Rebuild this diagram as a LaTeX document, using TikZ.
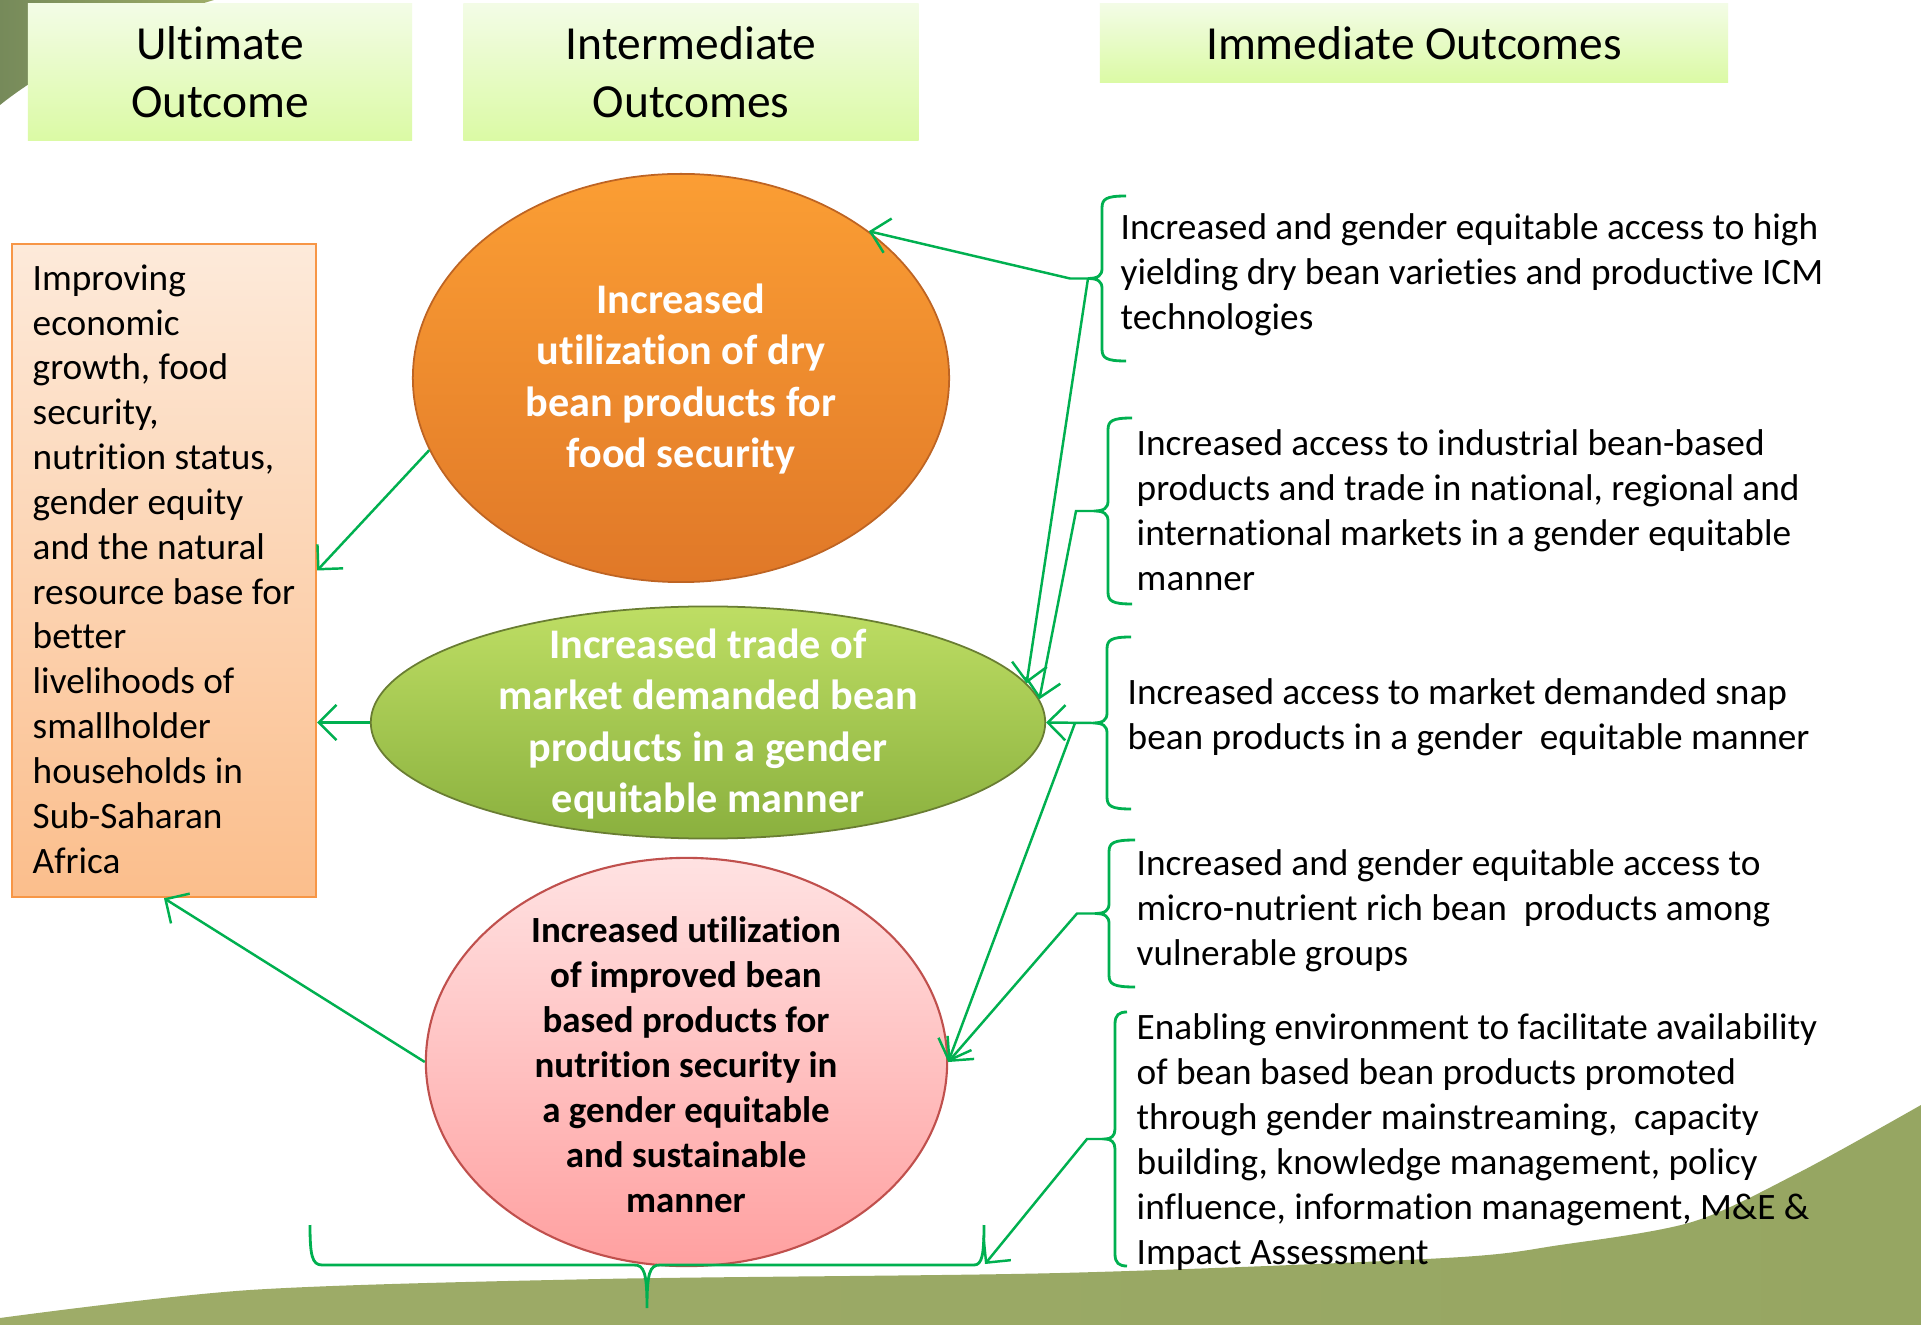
\documentclass[tikz,border=0pt]{standalone}
\usepackage{fontspec}
\setmainfont{Carlito}[Ligatures=NoCommon]
\usetikzlibrary{shapes.geometric,arrows.meta}
\definecolor{cgreen}{RGB}{0,176,80}
\definecolor{hdrtop}{RGB}{243,252,230}
\definecolor{hdrbot}{RGB}{219,250,165}
\definecolor{orgtop}{RGB}{251,158,52}
\definecolor{orgbot}{RGB}{224,120,40}
\definecolor{orgrim}{RGB}{190,100,35}
\definecolor{grntop}{RGB}{190,222,100}
\definecolor{grnbot}{RGB}{138,176,62}
\definecolor{grnrim}{RGB}{105,125,50}
\definecolor{pnktop}{RGB}{255,226,226}
\definecolor{pnkbot}{RGB}{255,160,160}
\definecolor{pnkrim}{RGB}{192,80,77}
\definecolor{ulttop}{RGB}{253,234,218}
\definecolor{ultbot}{RGB}{251,190,140}
\definecolor{ultrim}{RGB}{247,150,70}
\definecolor{bgA}{RGB}{158,172,104}
\definecolor{bgB}{RGB}{118,138,90}
\definecolor{bgC}{RGB}{150,166,98}
\newcommand{\mybrace}[6]{% x, top, bottom, name, arm, tip
  \pgfmathsetmacro{\bm}{(#2+#3)/2}
  \draw[brc] ({#1+#5},#2) .. controls ({#1+4},#2) and (#1,{#2+3}) .. (#1,{#2+12})
    -- (#1,{\bm-10}) .. controls (#1,{\bm-3}) and ({#1-4},\bm) .. ({#1-#6},\bm)
    .. controls ({#1-4},\bm) and (#1,{\bm+3}) .. (#1,{\bm+10})
    -- (#1,{#3-12}) .. controls (#1,{#3-3}) and ({#1+4},#3) .. ({#1+#5},#3);
  \coordinate (#4) at ({#1-#6},\bm);
  \coordinate (#4k) at ({#1-#6-18},\bm);
}
\begin{document}
\begin{tikzpicture}[x=0.01cm,y=-0.01cm,
  hdr/.style={rectangle, top color=hdrtop, bottom color=hdrbot, inner sep=0pt,
    align=center, font=\fontsize{13.5}{16.4}\selectfont},
  body/.style={align=left, inner sep=0pt, anchor=west, font=\fontsize{10.6}{12.75}\selectfont},
  elltext/.style={align=center, inner sep=0pt, text=white, font=\bfseries\fontsize{12}{14.6}\selectfont},
  brc/.style={draw=cgreen, line width=0.8pt},
  arr/.style={draw=cgreen, line width=0.7pt, -{Straight Barb[length=5pt,width=10pt]}}
]
\useasboundingbox (0,0) rectangle (1921,1325);
\fill[white] (0,0) rectangle (1921,1325);
% background swooshes
\shade[left color=bgA, middle color=bgB, right color=bgC]
  (0,1325) -- plot[smooth] coordinates {(0,1318) (250,1290) (600,1279) (1060,1273) (1445,1258) (1560,1245) (1692,1222) (1800,1172) (1921,1105)} -- (1921,1325) -- cycle;
\shade[left color=bgB, right color=bgA]
  (0,0) -- (214,0) .. controls (130,25) and (50,65) .. (0,105) -- cycle;

% headers
\node[hdr, minimum width=3.84cm, minimum height=1.36cm] (h1) at (220,72) {Ultimate\\Outcome};
\node[hdr, minimum width=4.55cm, minimum height=1.36cm] (h2) at (691,72) {Intermediate\\Outcomes};
\node[hdr, minimum width=6.28cm, minimum height=0.78cm] (h3) at (1414,43) {Immediate Outcomes};

% ultimate outcome box
\node[rectangle, top color=ulttop, bottom color=ultbot, draw=ultrim, line width=0.6pt,
  minimum width=3.04cm, minimum height=6.53cm, inner sep=0pt] (ult) at (164,570.5) {};
\node[body] (ulttext) at (32,569) {Improving\\economic\\growth, food\\security,\\nutrition status,\\gender equity\\and the natural\\resource base for\\better\\livelihoods of\\smallholder\\households in\\Sub-Saharan\\Africa};

% intermediate outcome ellipses
\node[ellipse, top color=orgtop, bottom color=orgbot, draw=orgrim, line width=0.5pt,
  minimum width=5.36cm, minimum height=4.08cm, inner sep=0pt] (orange) at (681,378) {};
\node[elltext] (orangetext) at (681,379) {Increased\\utilization of dry\\bean products for\\food security};

\node[ellipse, top color=grntop, bottom color=grnbot, draw=grnrim, line width=0.5pt,
  minimum width=6.74cm, minimum height=2.32cm, inner sep=0pt] (green) at (708,722.5) {};
\node[elltext] (greentext) at (708,724) {Increased trade of\\market demanded bean\\products in a gender\\equitable manner};

\node[ellipse, top color=pnktop, bottom color=pnkbot, draw=pnkrim, line width=0.6pt,
  minimum width=5.21cm, minimum height=4.08cm, inner sep=0pt] (pink) at (686.5,1062) {};
\node[elltext, text=black, font=\bfseries\fontsize{10.5}{12.8}\selectfont] (pinktext) at (686,1065)
  {Increased utilization\\of improved bean\\based products for\\nutrition security in\\a gender equitable\\and sustainable\\manner};

% immediate outcome texts
\node[body] (im1) at (1120,275) {Increased and gender equitable access to high\\yielding dry bean varieties and productive ICM\\technologies};
\node[body] (im2) at (1136,510) {Increased access to industrial bean-based\\products and trade in national, regional and\\international markets in a gender equitable\\manner};
\node[body] (im3) at (1127,717) {Increased access to market demanded snap\\bean products in a gender\ \ equitable manner};
\node[body] (im4) at (1136,911) {Increased and gender equitable access to\\micro-nutrient rich bean\ \ products among\\vulnerable groups};
\node[body] (im5) at (1136,1142) {Enabling environment to facilitate availability\\of bean based bean products promoted\\through gender mainstreaming,\ \ capacity\\building, knowledge management, policy\\influence, information management, M\&E \&\\Impact Assessment};

% braces
\mybrace{1102}{196}{361}{t1}{24}{14}
\mybrace{1108}{418}{604}{t2}{24}{14}
\mybrace{1107}{637}{809}{t3}{24}{14}
\mybrace{1109}{840}{987}{t4}{26}{14}
\mybrace{1115}{1012}{1266}{t5}{12}{10}

% bottom brace
\draw[brc] (310,1225) .. controls (310,1255) and (312,1265) .. (322,1265) -- (634,1265)
  .. controls (644,1265) and (647,1272) .. (647,1308)
  .. controls (647,1272) and (650,1265) .. (660,1265) -- (974,1265)
  .. controls (982,1265) and (984,1255) .. (984,1225);
\coordinate (bbr) at (985,1264);

% connectors
\draw[arr] (t1) -- (t1k) -- (orange.38);
\draw[arr] (t1) -- (green.7);
\draw[arr] (t2) -- (t2k) -- (green.4);
\draw[arr] (t3) -- (green.east);
\draw[arr] (t3k) -- (pink.east);
\draw[arr] (t4) -- (t4k) -- (pink.east);
\draw[arr] (t5) -- (t5k) -- (bbr);
\draw[arr] (orange.196) -- (ult.east);
\draw[arr] (green.west) -- (green.west -| ult.east);
\draw[arr] (pink.west) -- (ult.south);
\end{tikzpicture}
\end{document}
